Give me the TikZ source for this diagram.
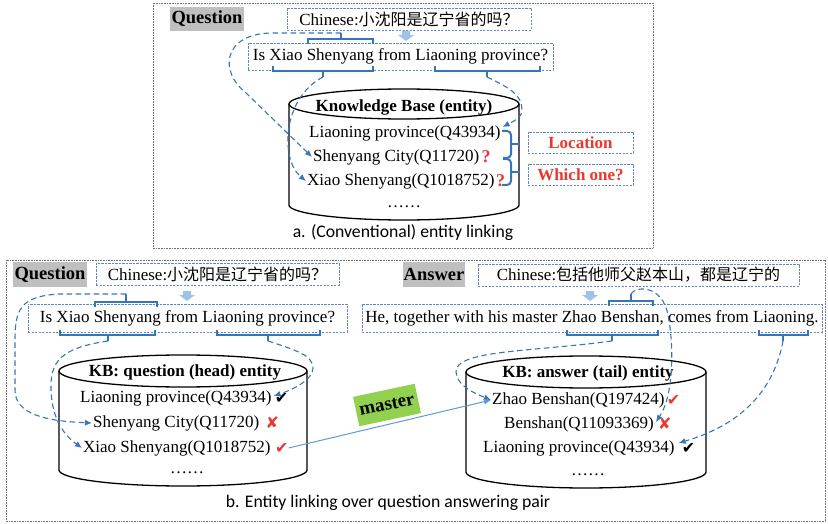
\documentclass[tikz,border=0pt]{standalone}
\usepackage{fontspec}
\setmainfont{Liberation Serif}
\newfontfamily\cjk{Noto Sans CJK SC}
\newfontfamily\capfont{Carlito}
\newfontfamily\symfont{DejaVu Sans}
\usetikzlibrary{arrows.meta,positioning}

\definecolor{boxblue}{HTML}{5A8AC6}
\definecolor{linkblue}{HTML}{3674BC}
\definecolor{lightarrow}{HTML}{9DC3E6}
\definecolor{masterblue}{HTML}{5B9BD5}
\definecolor{labelgray}{HTML}{BFBFBF}
\definecolor{mastergreen}{HTML}{92D050}
\definecolor{markred}{HTML}{E8382F}
\definecolor{framegray}{HTML}{707070}

\newcommand{\txt}{\fontsize{17}{20}\selectfont}
\newcommand{\cn}[1]{{\cjk\fontsize{16}{20}\selectfont #1}}
\newcommand{\okmark}{{\symfont\fontsize{16}{18}\selectfont ✔}}
\newcommand{\nomark}{{\symfont\fontsize{16}{18}\selectfont ✘}}

\tikzset{
  frame/.style={draw=framegray, line width=0.9pt, dash pattern=on 0.8pt off 0.8pt},
  tag/.style={fill=labelgray, inner sep=0pt, font=\fontsize{18.5}{20}\selectfont\bfseries},
  dbox/.style={draw=boxblue, line width=0.8pt, dash pattern=on 2.2pt off 1.3pt, inner sep=0pt, font=\txt},
  ent/.style={inner sep=0pt, font=\txt, anchor=west},
  kbtitle/.style={inner sep=0pt, font=\txt\bfseries},
  qmark/.style={inner sep=0pt, text=markred, font=\fontsize{18}{20}\selectfont\bfseries},
  redmark/.style={inner sep=0pt, text=markred},
  blackmark/.style={inner sep=0pt, text=black},
  brk/.style={draw=linkblue, line width=1.3pt},
  brc/.style={draw=linkblue, line width=2pt, rounded corners=4pt},
  darr/.style={draw=linkblue, line width=1.1pt, dash pattern=on 5.5pt off 3.5pt,
               -{Latex[length=7pt,width=6pt]}},
  cyl/.style={draw=black, line width=1.3pt},
  caption/.style={inner sep=0pt, font=\capfont\fontsize{17.7}{20}\selectfont},
  redbox/.style={dbox, text=markred, font=\txt\bfseries},
}

\begin{document}
\begin{tikzpicture}[x=1pt, y=-1pt]
\useasboundingbox (0,0) rectangle (828,524);

% ---------------- panel a ----------------
\draw[frame] (153,3) rectangle (653,248);

\node[tag, minimum width=74pt, minimum height=24pt] (qa) at (207,19) {Question};
\node[dbox, minimum width=244pt, minimum height=22pt] (cna) at (409,19)
  {Chinese:\cn{小沈阳是辽宁省的吗？}};
\fill[lightarrow] (402,31) -- (410,31) -- (410,35) -- (414,35) -- (406,41)
  -- (398,35) -- (402,35) -- cycle;
\node[dbox, minimum width=305pt, minimum height=27pt] (ena) at (400.5,56.5)
  {Is Xiao Shenyang from Liaoning province?};

% brackets on the question
\draw[brk] (308,44) -- (308,39) -- (373,39) -- (373,44);
\draw[brk] (341,39) -- (341,33);
\coordinate (ta) at (341,33);
\draw[brk] (273,66) -- (273,71) -- (373,71) -- (373,66);
\draw[brk] (323,71) -- (323,77);
\coordinate (tb) at (323,77);
\draw[brk] (435,66) -- (435,71) -- (540,71) -- (540,66);
\draw[brk] (487,71) -- (487,77);
\coordinate (tc) at (487,77);

% knowledge base cylinder
\draw[cyl] (404,104) ellipse [x radius=115pt, y radius=15pt];
\draw[cyl] (289,104) -- (289,205)
  arc [start angle=180, end angle=360, x radius=115pt, y radius=15pt]
  -- (519,104);
\node[kbtitle] (kba) at (404,107) {Knowledge Base (entity)};
\node[ent] (e1) at (309,133) {Liaoning province(Q43934)};
\node[ent] (e2) at (313,157) {Shenyang City(Q11720)};
\node[qmark, right=2pt of e2] (e2q) {?};
\node[ent] (e3) at (307,181) {Xiao Shenyang(Q1018752)};
\node[qmark, right=1pt of e3] (e3q) {?};
\node[inner sep=0pt, font=\txt] (da) at (404,207) {……};

% candidate braces and their labels
\draw[brc] (502,131) -- (511,131) -- (511,158) -- (503,158);
\draw[brk, line width=2pt] (511,144) -- (520,144);
\draw[brc] (503,159) -- (511,159) -- (511,185) -- (502,185);
\draw[brk, line width=2pt] (511,172) -- (520,172);
\node[redbox, minimum width=105pt, minimum height=21pt] (loc) at (580.5,142.5) {Location};
\node[redbox, minimum width=105pt, minimum height=21pt] (which) at (580.5,174.5) {Which one?};

% mention links
\draw[darr] (ta) -- (270,33) .. controls (222,35) and (220,72) .. (245,92)
  -- ([xshift=-1pt]e2.west);
\draw[darr] (tb) .. controls (282,98) and (280,160) .. ([xshift=-1pt]e3.west);
\draw[darr] (tc) .. controls (510,88) and (522,95) .. (522,110)
  .. controls (522,118) and (512,122) .. ([shift={(2,-6)}]e1.east);

\node[caption] (capa) at (403,233) {a. (Conventional) entity linking};

% ---------------- panel b ----------------
\draw[frame] (6,260) rectangle (825,521);

% question side
\node[tag, minimum width=74pt, minimum height=25pt] (qb) at (50,274.5) {Question};
\node[dbox, minimum width=243pt, minimum height=22pt] (cnq) at (217.5,274)
  {Chinese:\cn{小沈阳是辽宁省的吗？}};
\fill[lightarrow] (183,291) -- (191,291) -- (191,295) -- (195,295) -- (187,301)
  -- (179,295) -- (183,295) -- cycle;
\node[dbox, minimum width=319pt, minimum height=28pt] (enq) at (187.5,318)
  {Is Xiao Shenyang from Liaoning province?};

\draw[brk] (95,307) -- (95,302) -- (157,302) -- (157,307);
\draw[brk] (126,302) -- (126,294);
\coordinate (tq1) at (126,294);
\draw[brk] (60,330) -- (60,335) -- (155,335) -- (155,330);
\draw[brk] (108,335) -- (108,341);
\coordinate (tq2) at (108,341);
\draw[brk] (217,330) -- (217,335) -- (320,335) -- (320,330);
\draw[brk] (268,335) -- (268,341);
\coordinate (tq3) at (268,341);

\draw[cyl] (183,371) ellipse [x radius=124pt, y radius=16pt];
\draw[cyl] (59,371) -- (59,470)
  arc [start angle=180, end angle=360, x radius=124pt, y radius=16pt]
  -- (307,371);
\node[kbtitle] (kbq) at (185,372) {KB: question (head) entity};
\node[ent] (f1) at (80,398) {Liaoning province(Q43934)};
\node[blackmark, right=3pt of f1] (f1m) {\okmark};
\node[ent] (f2) at (93,423) {Shenyang City(Q11720)};
\node[redmark, right=6pt of f2] (f2m) {\nomark};
\node[ent] (f3) at (83,448) {Xiao Shenyang(Q1018752)};
\node[redmark, right=4pt of f3] (f3m) {\okmark};
\node[inner sep=0pt, font=\txt] (dq) at (187,473) {……};

\draw[darr] (tq1) -- (60,294) .. controls (20,296) and (15,310) .. (15,340)
  -- (15,390) .. controls (15,414) and (45,421) .. ([xshift=-1pt]f2.west);
\draw[darr] (tq2) .. controls (60,348) and (50,362) .. (51,390)
  .. controls (52,420) and (65,436) .. ([xshift=-1pt]f3.west);
\draw[darr] (tq3) .. controls (295,350) and (313,355) .. (313,368)
  .. controls (313,380) and (292,390) .. ([shift={(2,-2)}]f1.east);

% answer side
\node[tag, minimum width=62pt, minimum height=25pt] (ab) at (434,274.5) {Answer};
\node[dbox, minimum width=321pt, minimum height=22pt] (cnans) at (638.5,275)
  {Chinese:\cn{包括他师父赵本山，都是辽宁的}};
\fill[lightarrow] (586,291) -- (594,291) -- (594,295) -- (598,295) -- (590,301)
  -- (582,295) -- (586,295) -- cycle;
\node[dbox, minimum width=460pt, minimum height=28pt] (enans) at (592,318)
  {He, together with his master Zhao Benshan, comes from Liaoning.};

\draw[brk] (609,306) -- (609,301) -- (653,301) -- (653,306);
\draw[brk] (631,301) -- (631,294);
\coordinate (ta1) at (631,294);
\draw[brk] (567,330) -- (567,335) -- (658,335) -- (658,330);
\draw[brk] (612,335) -- (612,341);
\coordinate (ta2) at (612,341);
\draw[brk] (759,330) -- (759,335) -- (808,335) -- (808,330);
\draw[brk] (783,335) -- (783,341);
\coordinate (ta3) at (783,341);

\draw[cyl] (586,372) ellipse [x radius=120pt, y radius=16pt];
\draw[cyl] (466,372) -- (466,472)
  arc [start angle=180, end angle=360, x radius=120pt, y radius=16pt]
  -- (706,372);
\node[kbtitle] (kbans) at (588,373) {KB: answer (tail) entity};
\node[ent] (g1) at (492,400) {Zhao Benshan(Q197424)};
\node[redmark, right=2pt of g1] (g1m) {\okmark};
\node[ent] (g2) at (504,424) {Benshan(Q11093369)};
\node[redmark, right=4pt of g2] (g2m) {\nomark};
\node[ent] (g3) at (483,448) {Liaoning province(Q43934)};
\node[blackmark, right=7pt of g3] (g3m) {\okmark};
\node[inner sep=0pt, font=\txt] (dans) at (588,475) {……};

\draw[darr] (ta1) .. controls (635,286) and (662,284) .. (668,315)
  .. controls (674,345) and (674,395) .. ([shift={(2,-2)}]g2.east);
\draw[darr] (ta2) .. controls (530,352) and (455,350) .. (456,372)
  .. controls (457,386) and (474,393) .. ([xshift=-1pt]g1.west);
\draw[darr] (ta3) .. controls (772,400) and (730,428) .. ([shift={(4,-5)}]g3.east);

% relation between the two linked entities
\draw[draw=masterblue, line width=1pt, -{Latex[length=7pt,width=6pt]}]
  (f3m.east) -- ([xshift=-1pt]g1.west);
\node[fill=mastergreen, rotate=12, minimum width=63pt, minimum height=30pt,
      inner sep=0pt, font=\fontsize{19}{20}\selectfont\bfseries] (rel) at (387,405) {master};

\node[caption] (capb) at (388,503) {b. Entity linking over question answering pair};
\end{tikzpicture}
\end{document}
